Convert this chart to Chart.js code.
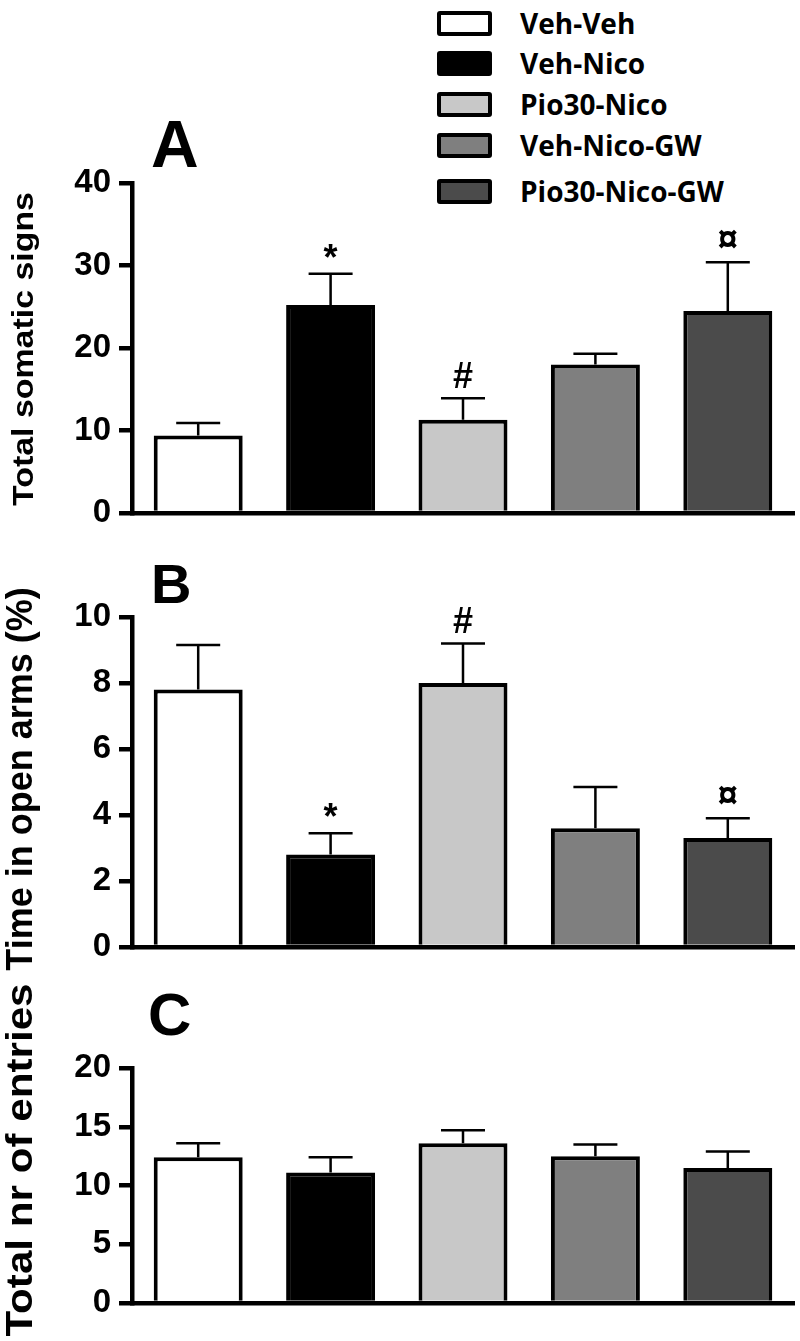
<!DOCTYPE html>
<html>
<head>
<meta charset="utf-8">
<script src="https://cdn.jsdelivr.net/npm/chart.js@4.4.1/dist/chart.umd.min.js"></script>
<style>
  html, body { margin: 0; padding: 0; background: #fff; }
  #page { position: relative; width: 800px; height: 1341px; overflow: hidden; background: #fff; }
  canvas { position: absolute; left: 0; }
  .letter { position: absolute; font-family: "Liberation Sans", Arial, sans-serif; font-weight: bold; line-height: 1; color: #000; }
  #legend { position: absolute; left: 437px; top: 0; }
  .lg-row { position: absolute; left: 0; display: flex; align-items: center; white-space: nowrap; }
  .lg-box { width: 47px; height: 17px; border: 4px solid #000; border-radius: 3px; }
  .lg-text { margin-left: 28px; font-family: "Open Sans", Lato, sans-serif; font-weight: bold; font-size: 28px; color: #000; }
</style>
</head>
<body>
<div id="page">
  <div id="legend"></div>
  <div class="letter" style="left:151px;top:111px;font-size:66px;">A</div>
  <div class="letter" style="left:151px;top:556px;font-size:56px;">B</div>
  <div class="letter" style="left:148px;top:985px;font-size:60px;">C</div>
  <canvas id="chartA" width="800" height="450" style="top:100px"></canvas>
  <canvas id="chartB" width="800" height="428" style="top:552px"></canvas>
  <canvas id="chartC" width="800" height="366" style="top:975px"></canvas>
</div>
<script>
// ── DATA ─────────────────────────────────────────
const groups = ["Veh-Veh", "Veh-Nico", "Pio30-Nico", "Veh-Nico-GW", "Pio30-Nico-GW"];
const fills  = ["#ffffff", "#000000", "#c8c8c8", "#7f7f7f", "#4b4b4b"];

const somaticMean  = [9.4, 25.2, 11.3, 18.0, 24.5];
const somaticSem   = [1.5, 3.8, 2.6, 1.3, 5.9];
const somaticMarks = ["", "*", "#", "", "¤"];
const somaticTicks = [0, 10, 20, 30, 40];

const openArmsMean  = [7.8, 2.8, 8.0, 3.6, 3.3];
const openArmsSem   = [1.35, 0.65, 1.2, 1.25, 0.6];
const openArmsMarks = ["", "*", "#", "", "¤"];
const openArmsTicks = [0, 2, 4, 6, 8, 10];

const entriesMean  = [12.4, 11.1, 13.6, 12.5, 11.5];
const entriesSem   = [1.2, 1.3, 1.1, 1.0, 1.4];
const entriesMarks = ["", "", "", "", ""];
const entriesTicks = [0, 5, 10, 15, 20];

const FONT = '"Liberation Sans", Arial, sans-serif';

// ── LEGEND ───────────────────────────────────────
const legendTops = [4, 44, 85, 126, 172];
document.getElementById("legend").innerHTML = groups
  .map((g, i) => `
    <div class="lg-row" style="top:${legendTops[i]}px">
      <div class="lg-box" style="background:${fills[i]}"></div>
      <div class="lg-text">${g}</div>
    </div>`)
  .join("");

// ── PLUGINS ──────────────────────────────────────
// error bar (upper half only) + significance marks
const errorBars = {
  id: "errorBars",
  afterDatasetsDraw(chart) {
    const { ctx, scales: { y } } = chart;
    const ds   = chart.data.datasets[0];
    const meta = chart.getDatasetMeta(0);
    ctx.save();
    ctx.strokeStyle = "#000";
    ctx.lineWidth   = 2.5;
    meta.data.forEach((bar, i) => {
      const base = y.getPixelForValue(ds.data[i]);
      const top  = y.getPixelForValue(ds.data[i] + ds.errors[i]);
      ctx.beginPath();
      ctx.moveTo(bar.x, base);
      ctx.lineTo(bar.x, top);
      ctx.moveTo(bar.x - 22, top);
      ctx.lineTo(bar.x + 22, top);
      ctx.stroke();

      const mark = ds.marks[i];
      if (mark) {
        ctx.font = "bold 36px " + FONT;
        ctx.fillStyle = "#000";
        ctx.textAlign = "center";
        ctx.textBaseline = "alphabetic";
        const m  = ctx.measureText(mark);
        const cy = top - 23;
        ctx.fillText(mark, bar.x, cy + (m.actualBoundingBoxAscent - m.actualBoundingBoxDescent) / 2);
      }
    });
    ctx.restore();
  },
};

// rotated y title, drawn by hand so it can be placed freely
const yTitle = {
  id: "yTitle",
  afterDraw(chart, args, o) {
    const ctx = chart.ctx;
    ctx.save();
    ctx.translate(o.x, o.y);
    ctx.rotate(-Math.PI / 2);
    ctx.scale(o.stretch, 1);
    ctx.font = `bold ${o.size}px ${FONT}`;
    ctx.fillStyle = "#000";
    ctx.textAlign = "center";
    ctx.textBaseline = "alphabetic";
    ctx.fillText(o.text, 0, 0);
    ctx.restore();
  },
};

// ── PANEL ────────────────────────────────────────
function makePanel(id, p) {
  return new Chart(document.getElementById(id), {
    type: "bar",
    data: {
      labels: groups,
      datasets: [{
        data:               p.mean,
        errors:             p.sem,
        marks:              p.marks,
        backgroundColor:    fills,
        borderColor:        "#000",
        borderWidth:        4,
        borderSkipped:      "start",
        barPercentage:      0.672,
        categoryPercentage: 1,
      }],
    },
    plugins: [errorBars, yTitle],
    options: {
      responsive: false,
      animation:  false,
      layout: { padding: { top: p.padTop, bottom: p.padBottom, left: 0, right: 6 } },
      plugins: {
        legend:  { display: false },
        tooltip: { enabled: false },
        yTitle:  p.title,
      },
      scales: {
        x: {
          grid:   { display: false },
          ticks:  { display: false },
          border: { display: true, color: "#000", width: 4.5 },
          afterFit: s => { s.height = 20; },
        },
        y: {
          min: p.ticks[0],
          max: p.ticks[p.ticks.length - 1],
          afterBuildTicks: s => { s.ticks = p.ticks.map(v => ({ value: v })); },
          ticks:  { color: "#000", padding: 8, font: { family: FONT, size: 33, weight: "bold" } },
          grid:   { drawOnChartArea: false, drawTicks: true, tickLength: 13, color: "#000", lineWidth: 4.5 },
          border: { display: true, color: "#000", width: 4.5 },
          afterFit: s => { s.width = 132; },
        },
      },
    },
  });
}

makePanel("chartA", {
  mean: somaticMean, sem: somaticSem, marks: somaticMarks, ticks: somaticTicks,
  padTop: 83, padBottom: 17,
  title: { text: "Total somatic signs", size: 30, stretch: 1.13, x: 33, y: 249 },
});

makePanel("chartB", {
  mean: openArmsMean, sem: openArmsSem, marks: openArmsMarks, ticks: openArmsTicks,
  padTop: 65, padBottom: 13,
  title: { text: "Time in open arms (%)", size: 36, stretch: 1.0, x: 32, y: 227 },
});

makePanel("chartC", {
  mean: entriesMean, sem: entriesSem, marks: entriesMarks, ticks: entriesTicks,
  padTop: 93, padBottom: 18,
  title: { text: "Total nr of entries", size: 37, stretch: 1.14, x: 32, y: 185 },
});
</script>
</body>
</html>
